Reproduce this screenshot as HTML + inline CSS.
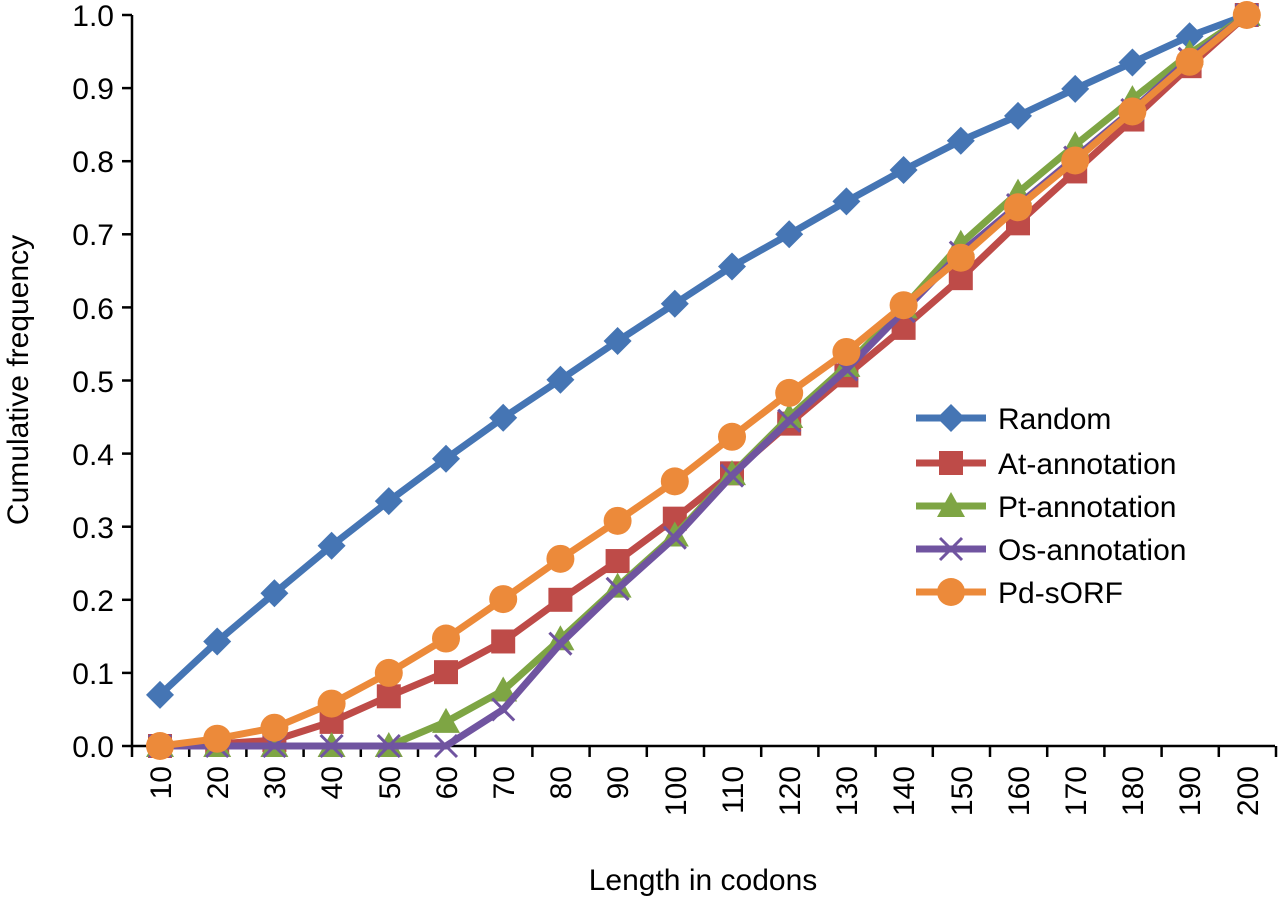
<!DOCTYPE html>
<html><head><meta charset="utf-8"><style>
html,body{margin:0;padding:0;background:#fff;}
svg{display:block;font-family:"Liberation Sans",Arial,sans-serif;}
</style></head><body>
<svg id="s" width="1280" height="899" viewBox="0 0 1280 899" xmlns="http://www.w3.org/2000/svg">
<g fill="#000" font-size="30" text-anchor="end">
<text x="114" y="757">0.0</text><text x="114" y="684">0.1</text><text x="114" y="611">0.2</text>
<text x="114" y="538">0.3</text><text x="114" y="465">0.4</text><text x="114" y="392">0.5</text>
<text x="114" y="319">0.6</text><text x="114" y="245">0.7</text><text x="114" y="172">0.8</text>
<text x="114" y="99">0.9</text><text x="114" y="26">1.0</text>
</g>
<g fill="#000" font-size="30" text-anchor="end">
<text transform="translate(171,766) rotate(-90)">10</text>
<text transform="translate(228,766) rotate(-90)">20</text>
<text transform="translate(285,766) rotate(-90)">30</text>
<text transform="translate(342,766) rotate(-90)">40</text>
<text transform="translate(400,766) rotate(-90)">50</text>
<text transform="translate(457,766) rotate(-90)">60</text>
<text transform="translate(514,766) rotate(-90)">70</text>
<text transform="translate(571,766) rotate(-90)">80</text>
<text transform="translate(628,766) rotate(-90)">90</text>
<text transform="translate(686,766) rotate(-90)">100</text>
<text transform="translate(743,766) rotate(-90)">110</text>
<text transform="translate(800,766) rotate(-90)">120</text>
<text transform="translate(857,766) rotate(-90)">130</text>
<text transform="translate(914,766) rotate(-90)">140</text>
<text transform="translate(972,766) rotate(-90)">150</text>
<text transform="translate(1029,766) rotate(-90)">160</text>
<text transform="translate(1086,766) rotate(-90)">170</text>
<text transform="translate(1143,766) rotate(-90)">180</text>
<text transform="translate(1200,766) rotate(-90)">190</text>
<text transform="translate(1258,766) rotate(-90)">200</text>
</g>
<text x="703" y="890" font-size="30" text-anchor="middle">Length in codons</text>
<text transform="translate(28,380) rotate(-90)" font-size="30" text-anchor="middle">Cumulative frequency</text>
<g id="ax" stroke="#000" stroke-width="2.5" fill="none"></g>
<g id="data"></g>
<g font-size="30" fill="#000">
<text x="998" y="429">Random</text>
<text x="998" y="474">At-annotation</text>
<text x="998" y="517">Pt-annotation</text>
<text x="998" y="560">Os-annotation</text>
<text x="998" y="603">Pd-sORF</text>
</g>
</svg>
<script>
var NS="http://www.w3.org/2000/svg";
function el(p,t,a){var e=document.createElementNS(NS,t);for(var k in a)e.setAttribute(k,a[k]);p.appendChild(e);return e;}
var ax=document.getElementById('ax');
var X0=132,Y0=746,sp=57.2;
el(ax,'line',{x1:X0,y1:15,x2:X0,y2:Y0});
el(ax,'line',{x1:X0,y1:Y0,x2:1275,y2:Y0});
for(var i=0;i<=10;i++){var y=Y0-73.1*i;el(ax,'line',{x1:X0-10,y1:y,x2:X0,y2:y});}
for(var i=0;i<=20;i++){var x=X0+sp*i;el(ax,'line',{x1:x,y1:Y0,x2:x,y2:Y0+11});}
function px(i){return 160+sp*i;} function py(v){return Y0-731*v;}
var S=[
{c:'#4575b4',m:'d',v:[0.07,0.143,0.209,0.274,0.335,0.393,0.449,0.501,0.554,0.605,0.656,0.700,0.745,0.788,0.828,0.862,0.899,0.935,0.971,1]},
{c:'#be4b48',m:'s',v:[0,0.003,0.008,0.033,0.068,0.101,0.143,0.200,0.253,0.311,0.373,0.441,0.507,0.572,0.640,0.715,0.786,0.857,0.930,1]},
{c:'#7ea544',m:'t',v:[0,0,0,0,0,0.033,0.076,0.146,0.218,0.288,0.372,0.45,0.52,0.60,0.687,0.757,0.822,0.885,0.947,1]},
{c:'#7054a0',m:'x',v:[0,0,0,0,0,0,0.05,0.14,0.215,0.285,0.37,0.445,0.515,0.595,0.675,0.74,0.805,0.87,0.94,1]},
{c:'#ec8a3a',m:'o',v:[0,0.01,0.025,0.058,0.1,0.147,0.201,0.256,0.308,0.362,0.423,0.483,0.539,0.603,0.668,0.737,0.801,0.868,0.936,1]}];
var g=document.getElementById('data');
function mk(p,m,x,y,c){
 if(m=='d')el(p,'polygon',{points:(x)+','+(y-14)+' '+(x+14)+','+y+' '+x+','+(y+14)+' '+(x-14)+','+y,fill:c});
 else if(m=='s')el(p,'rect',{x:x-12,y:y-12,width:24,height:24,fill:c});
 else if(m=='t')el(p,'polygon',{points:x+','+(y-14)+' '+(x+14)+','+(y+11)+' '+(x-14)+','+(y+11),fill:c});
 else if(m=='x'){el(p,'line',{x1:x-11,y1:y-11,x2:x+11,y2:y+11,stroke:c,'stroke-width':3});el(p,'line',{x1:x-11,y1:y+11,x2:x+11,y2:y-11,stroke:c,'stroke-width':3});}
 else el(p,'circle',{cx:x,cy:y,r:14,fill:c});
}
S.forEach(function(s,k){
 var pts=s.v.map(function(v,i){return px(i)+','+py(v);}).join(' ');
 el(g,'polyline',{points:pts,fill:'none',stroke:s.c,'stroke-width':7,'stroke-linejoin':'round'});
 s.v.forEach(function(v,i){mk(g,s.m,px(i),py(v),s.c);});
 var ly=[418,463,506,549,592][k];
 el(g,'line',{x1:916,y1:ly,x2:986,y2:ly,stroke:s.c,'stroke-width':7});
 mk(g,s.m,951,ly,s.c);
});
</script>
</body></html>
